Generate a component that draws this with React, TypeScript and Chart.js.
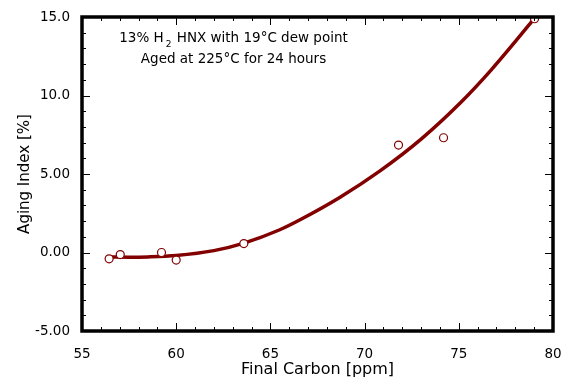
import React, { useEffect, useRef } from "react";
import { Chart, registerables } from "chart.js";

Chart.register(...registerables);

// Measured data points
const carbonPpm = [56.44, 57.03, 59.22, 60.0, 63.59, 71.8, 74.19, 79.02];
const agingIndex = [-0.4, -0.13, 0.0, -0.48, 0.57, 6.84, 7.31, 14.89];

// Fit curve
const fitCarbon = [56.4, 57.5, 58.5, 60.0, 62.0, 63.6, 65.5, 66.6, 68.7, 70.8, 73.0, 75.1, 76.7, 78.8, 79.0];
const fitAging = [-0.29, -0.3, -0.28, -0.19, 0.12, 0.6, 1.45, 2.1, 3.52, 5.18, 7.22, 9.55, 11.6, 14.6, 14.9];

// Tick labels
const yTickValues = [-5, 0, 5, 10, 15];
const yTickLabels = ["-5.00", "0.00", "5.00", "10.0", "15.0"];
const xTickValues = [55, 60, 65, 70, 75, 80];
const xTickLabels = ["55", "60", "65", "70", "75", "80"];

// Annotation text
const noteLine1Before = "13% H";
const noteLine1Sub = "2";
const noteLine1After = " HNX with 19°C dew point";
const noteLine2 = "Aged at 225°C for 24 hours";

const FONT = "'DejaVu Sans', Verdana, sans-serif";
const RED = "#820000";

const framePlugin = {
  id: "frameTicks",
  afterDatasetsDraw(chart: any) {
    const { ctx, chartArea } = chart;
    const xs = chart.scales.x;
    const ys = chart.scales.y;
    const { left, right, top, bottom } = chartArea;
    ctx.save();
    ctx.strokeStyle = "#000";
    ctx.lineWidth = 1;
    for (let v = xs.min; v <= xs.max + 1e-9; v += 1) {
      const major = Math.abs(v % 5) < 1e-9;
      const len = major ? 8 : 4;
      const px = Math.round(xs.getPixelForValue(v)) + 0.5;
      ctx.beginPath();
      ctx.moveTo(px, bottom);
      ctx.lineTo(px, bottom - len);
      ctx.moveTo(px, top);
      ctx.lineTo(px, top + len);
      ctx.stroke();
    }
    for (let v = ys.min; v <= ys.max + 1e-9; v += 1) {
      const major = Math.abs(v % 5) < 1e-9;
      const len = major ? 8 : 4;
      const py = Math.round(ys.getPixelForValue(v)) + 0.5;
      ctx.beginPath();
      ctx.moveTo(left, py);
      ctx.lineTo(left + len, py);
      ctx.moveTo(right, py);
      ctx.lineTo(right - len, py);
      ctx.stroke();
    }
    ctx.lineWidth = 3.5;
    ctx.strokeRect(left, top, right - left, bottom - top);

    // annotation
    ctx.fillStyle = "#000";
    ctx.textBaseline = "alphabetic";
    const cx = 233.5;
    const mainFont = `13.5px ${FONT}`;
    const subFont = `9px ${FONT}`;
    ctx.font = mainFont;
    const w1 = ctx.measureText(noteLine1Before).width;
    const w3 = ctx.measureText(noteLine1After).width;
    ctx.font = subFont;
    const w2 = ctx.measureText(noteLine1Sub).width + 3;
    const total = w1 + w2 + w3;
    let x = cx - total / 2;
    ctx.textAlign = "left";
    ctx.font = mainFont;
    ctx.fillText(noteLine1Before, x, 42);
    x += w1 + 2;
    ctx.font = subFont;
    ctx.fillText(noteLine1Sub, x, 47);
    x += w2 - 2;
    ctx.font = mainFont;
    ctx.fillText(noteLine1After, x, 42);
    ctx.textAlign = "center";
    ctx.fillText(noteLine2, cx, 63);
    ctx.restore();
  },
};

export default function App() {
  const ref = useRef<HTMLCanvasElement | null>(null);
  useEffect(() => {
    if (!ref.current) return;
    const chart = new Chart(ref.current, {
      type: "scatter",
      data: {
        datasets: [
          {
            type: "scatter",
            data: carbonPpm.map((c, i) => ({ x: c, y: agingIndex[i] })),
            pointRadius: 4,
            pointBackgroundColor: "#ffffff",
            pointBorderColor: RED,
            pointBorderWidth: 1.2,
            showLine: false,
          } as any,
          {
            type: "line",
            data: fitCarbon.map((c, i) => ({ x: c, y: fitAging[i] })),
            borderColor: RED,
            borderWidth: 3.5,
            pointRadius: 0,
            cubicInterpolationMode: "monotone",
            fill: false,
          } as any,
        ],
      },
      options: {
        animation: false,
        responsive: false,
        events: [],
        layout: { padding: { left: 0, top: 17, right: 10, bottom: 0 } },
        plugins: { legend: { display: false }, tooltip: { enabled: false } },
        scales: {
          x: {
            type: "linear",
            min: 55,
            max: 80,
            grid: { display: false },
            border: { display: false },
            afterBuildTicks: (s: any) => {
              s.ticks = xTickValues.map((v) => ({ value: v }));
            },
            afterFit: (s: any) => {
              s.height = 49;
              s.paddingLeft = 0;
              s.paddingRight = 0;
            },
            ticks: {
              padding: 7,
              color: "#000",
              font: { family: FONT, size: 13.5 },
              maxRotation: 0,
              callback: (v: any) => {
                const i = xTickValues.indexOf(Number(v));
                return i >= 0 ? xTickLabels[i] : "";
              },
            },
            title: {
              display: true,
              text: "Final Carbon [ppm]",
              color: "#000",
              font: { family: FONT, size: 16 },
              padding: { top: 0, bottom: 1 },
            },
          },
          y: {
            type: "linear",
            min: -5,
            max: 15,
            grid: { display: false },
            border: { display: false },
            afterBuildTicks: (s: any) => {
              s.ticks = yTickValues.map((v) => ({ value: v }));
            },
            afterFit: (s: any) => {
              s.width = 82;
              s.paddingTop = 0;
              s.paddingBottom = 0;
            },
            ticks: {
              padding: 4,
              color: "#000",
              font: { family: FONT, size: 13.5 },
              callback: (v: any) => {
                const i = yTickValues.indexOf(Number(v));
                return i >= 0 ? yTickLabels[i] : "";
              },
            },
            title: {
              display: true,
              text: "Aging Index [%]",
              color: "#000",
              font: { family: FONT, size: 15 },
              padding: { top: 16, bottom: 0 },
            },
          },
        },
      },
      plugins: [framePlugin],
    });
    return () => chart.destroy();
  }, []);
  return (
    <div style={{ position: "absolute", left: 0, top: 0, width: 563, height: 380, background: "#fff" }}>
      <canvas ref={ref} width={563} height={380} />
    </div>
  );
}
